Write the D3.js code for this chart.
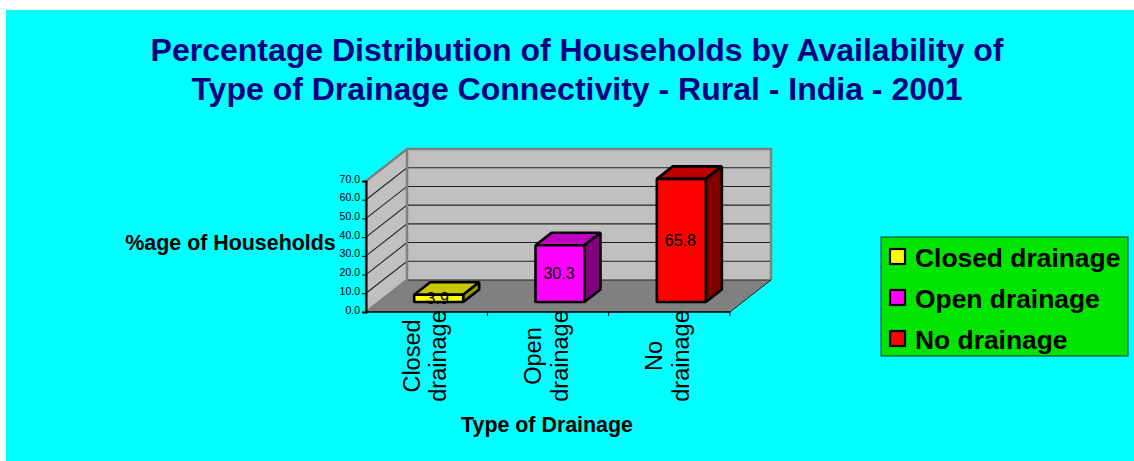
<!DOCTYPE html>
<html>
<head>
<meta charset="utf-8">
<script src="https://cdnjs.cloudflare.com/ajax/libs/d3/7.8.5/d3.min.js"></script>
<style>
body { margin: 0; background: #fff; }
svg { display: block; }
text { font-family: "Liberation Sans", Arial, sans-serif; fill: #000; }
</style>
</head>
<body>
<div class="graph"></div>
<script>
// chart data
var titleLines = ['Percentage Distribution of Households by Availability of',
    'Type of Drainage Connectivity - Rural - India - 2001']
var categories = ['Closed drainage', 'Open drainage', 'No drainage']
var axisLines = [['Closed', 'drainage'], ['Open', 'drainage'], ['No', 'drainage']]
var values = [3.9, 30.3, 65.8]
var yTicks = [0, 10, 20, 30, 40, 50, 60, 70]
var yTitle = '%age of Households'
var xTitle = 'Type of Drainage'

const width = 1134,
    height = 461

// front, top and side shade of each bar
var fronts = ['#ffff00', '#ff00ff', '#ff0000'],
    tops = ['#c8c800', '#c000c0', '#c00000'],
    sides = ['#9a9a00', '#800080', '#800000']

// the fake 3d box
const depth = {x: 41, y: -32},
    barDepth = {x: 16, y: -12.5},
    barShift = {x: 12, y: -10}

var x = d3.scaleBand()
    .domain(categories)
    .range([366, 730])

var y = d3.scaleLinear()
    .domain([0, 70])
    .range([312, 181])

var poly = d3.line()

var svg = d3.select('.graph').append('svg')
    .attr('width', width)
    .attr('height', height)

svg.append('rect')
    .attr('x', 6)
    .attr('y', 10)
    .attr('width', width - 6)
    .attr('height', height - 10)
    .attr('fill', '#00ffff')

// title
svg.append('g').selectAll('text')
    .data(titleLines)
    .join('text')
    .attr('x', 577)
    .attr('y', (d, i) => 61 + i * 39)
    .attr('text-anchor', 'middle')
    .attr('font-size', 32)
    .attr('font-weight', 'bold')
    .style('fill', '#000080')
    .text(d => d)

// walls and floor
var x0 = x.range()[0],
    x1 = x.range()[1],
    y0 = y.range()[0],
    y1 = y.range()[1]

svg.append('path')
    .attr('d', poly([[x0, y0], [x1, y0], [x1 + depth.x, y0 + depth.y], [x0 + depth.x, y0 + depth.y]]) + 'Z')
    .attr('fill', '#808080')

svg.append('path')
    .attr('d', poly([[x0, y0], [x0 + depth.x, y0 + depth.y], [x0 + depth.x, y1 + depth.y], [x0, y1]]) + 'Z')
    .attr('fill', '#c0c0c0')

svg.append('path')
    .attr('d', poly([[x0 + depth.x, y0 + depth.y], [x1 + depth.x, y0 + depth.y], [x1 + depth.x, y1 + depth.y], [x0 + depth.x, y1 + depth.y]]) + 'Z')
    .attr('fill', '#c0c0c0')

// gridlines
svg.append('g').selectAll('path')
    .data(yTicks)
    .join('path')
    .attr('d', d => poly([[x0, y(d)], [x0 + depth.x, y(d) + depth.y], [x1 + depth.x, y(d) + depth.y]]))
    .attr('fill', 'none')
    .attr('stroke', '#222')
    .attr('stroke-width', 1.1)

// wall borders
svg.append('path')
    .attr('d', poly([[x0, y0], [x0, y1], [x0 + depth.x, y1 + depth.y], [x1 + depth.x, y1 + depth.y], [x1 + depth.x, y0 + depth.y]]))
    .attr('fill', 'none')
    .attr('stroke', '#808080')
    .attr('stroke-width', 2.5)

svg.append('path')
    .attr('d', poly([[x0, y0], [x0 + depth.x, y0 + depth.y], [x0 + depth.x, y1 + depth.y]]))
    .attr('fill', 'none')
    .attr('stroke', '#808080')
    .attr('stroke-width', 2.5)

svg.append('path')
    .attr('d', poly([[x1, y0], [x1 + depth.x, y0 + depth.y]]))
    .attr('fill', 'none')
    .attr('stroke', '#222')
    .attr('stroke-width', 1)

// axes
var yAxis = svg.append('g')
    .attr('transform', `translate(${x0},0)`)
    .call(d3.axisLeft(y).tickValues(yTicks).tickFormat(d3.format('.1f')).tickSize(4).tickPadding(2))

yAxis.selectAll('text').attr('font-size', 10.5).attr('font-family', null).attr('dy', '0.1em')
yAxis.selectAll('line, path').attr('stroke', '#000')
yAxis.select('.domain').attr('stroke-width', 2)

var xAxis = svg.append('g')
xAxis.append('line')
    .attr('x1', x0)
    .attr('x2', x1)
    .attr('y1', y0)
    .attr('y2', y0)
    .attr('stroke', '#000')
    .attr('stroke-width', 1.5)

xAxis.selectAll('.tick')
    .data(categories)
    .join('line')
    .attr('class', 'tick')
    .attr('x1', d => x(d) + x.bandwidth())
    .attr('x2', d => x(d) + x.bandwidth())
    .attr('y1', y0)
    .attr('y2', y0 + 4)
    .attr('stroke', '#000')

// category labels, two rotated lines per tick
var labels = svg.append('g').selectAll('g')
    .data(categories)
    .join('g')
    .attr('transform', d => `translate(${x(d) + x.bandwidth() / 2},356) rotate(-90)`)

labels.selectAll('text')
    .data((d, i) => axisLines[i])
    .join('text')
    .attr('y', (d, i) => -7 + i * 26.5)
    .attr('text-anchor', 'middle')
    .attr('font-size', 23.5)
    .text(d => d)

// bars
var bars = svg.append('g').selectAll('g')
    .data(categories)
    .join('g')

const barWidth = 49

function barX(d) {
    return x(d) + (x.bandwidth() - barWidth) / 2 + barShift.x
}

function barY(v) {
    return y(v) + barShift.y
}

bars.append('path')
    .attr('d', (d, i) => {
	var l = barX(d), t = barY(values[i])
	return poly([[l, t], [l + barWidth, t], [l + barWidth + barDepth.x, t + barDepth.y], [l + barDepth.x, t + barDepth.y]]) + 'Z'
    })
    .attr('fill', (d, i) => tops[i])

bars.append('path')
    .attr('d', (d, i) => {
	var r = barX(d) + barWidth, t = barY(values[i]), b = barY(0)
	return poly([[r, t], [r + barDepth.x, t + barDepth.y], [r + barDepth.x, b + barDepth.y], [r, b]]) + 'Z'
    })
    .attr('fill', (d, i) => sides[i])

bars.append('rect')
    .attr('x', barX)
    .attr('y', (d, i) => barY(values[i]))
    .attr('width', barWidth)
    .attr('height', (d, i) => barY(0) - barY(values[i]))
    .attr('fill', (d, i) => fronts[i])

bars.selectAll('path, rect')
    .attr('stroke', '#000')
    .attr('stroke-width', 2.6)
    .attr('stroke-linejoin', 'bevel')

bars.append('text')
    .attr('x', d => barX(d) + barWidth / 2 - 1)
    .attr('y', (d, i) => (barY(values[i]) + barY(0)) / 2 + 5.5)
    .attr('text-anchor', 'middle')
    .attr('font-size', 16)
    .text((d, i) => values[i].toFixed(1))

// axis titles
svg.append('text')
    .attr('x', 230.5)
    .attr('y', 250)
    .attr('text-anchor', 'middle')
    .attr('font-size', 21.4)
    .attr('font-weight', 'bold')
    .text(yTitle)

svg.append('text')
    .attr('x', 547)
    .attr('y', 432)
    .attr('text-anchor', 'middle')
    .attr('font-size', 21.4)
    .attr('font-weight', 'bold')
    .text(xTitle)

// legend
var legend = svg.append('g')

legend.append('rect')
    .attr('x', 881)
    .attr('y', 237)
    .attr('width', 247)
    .attr('height', 119)
    .attr('fill', '#00e400')
    .attr('stroke', '#034')
    .attr('stroke-width', 1)

var items = legend.selectAll('g')
    .data(categories)
    .join('g')
    .attr('transform', (d, i) => `translate(0,${i * 41})`)

items.append('rect')
    .attr('x', 890)
    .attr('y', 249)
    .attr('width', 15)
    .attr('height', 15)
    .attr('fill', (d, i) => fronts[i])
    .attr('stroke', '#000')
    .attr('stroke-width', 2.2)

items.append('text')
    .attr('x', 915)
    .attr('y', 266.5)
    .attr('font-size', 26.4)
    .attr('font-weight', 'bold')
    .text(d => d)
</script>
</body>
</html>
